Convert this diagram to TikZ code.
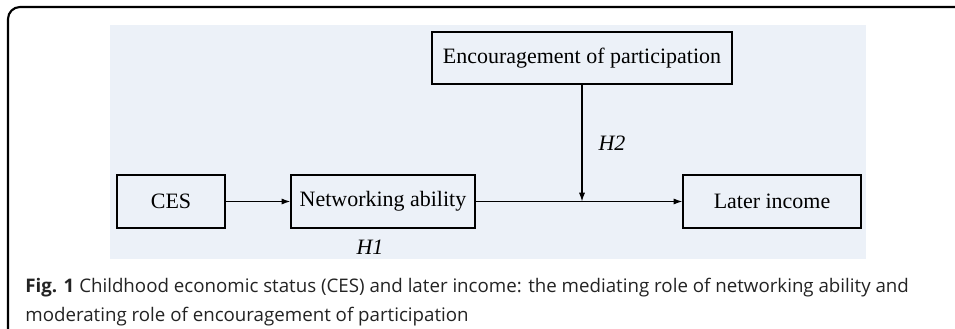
\documentclass[tikz,border=0pt]{standalone}
\usepackage{fontspec}
\setmainfont{Liberation Serif}
\newfontfamily\captionfont{Open Sans}
\usetikzlibrary{arrows.meta,positioning,calc}
\definecolor{panelblue}{RGB}{236,241,248}
\definecolor{captiongray}{RGB}{35,35,35}

\begin{document}
\begin{tikzpicture}[
    x=0.02cm, y=-0.02cm,
    box/.style={draw, rectangle, line width=0.7pt, fill=panelblue, inner sep=0pt, font=\fontsize{12.5}{14}\selectfont},
    hyp/.style={font=\fontsize{12.5}{14}\selectfont\itshape},
    link/.style={-{Latex[length=5pt,width=3.5pt]}, line width=0.7pt}
]
\useasboundingbox (0,0) rectangle (955,328);

% Frame and panel
\draw[line width=1.2pt, rounded corners=0.24cm] (8,330) -- (8,7) -- (958,7);
\fill[panelblue] (110,25) rectangle (866,259);

% Boxes
\node[box, minimum width=300*0.02cm, minimum height=52*0.02cm] (encour) at (582,58) {Encouragement of participation};
\node[box, minimum width=108*0.02cm, minimum height=53*0.02cm] (ces) at (171,201.5) {CES};
\node[box, minimum width=184*0.02cm, minimum height=53*0.02cm] (network) at (383,201.5) {Networking ability};
\node[box, minimum width=178*0.02cm, minimum height=53*0.02cm] (income) at (772,201.5) {Later income};
\coordinate (meet) at (582,201.5);

% Arrows
\draw[link] (ces) -- (network);
\draw[link] (network) -- (income);
\draw[link] (encour) -- (meet);

% Hypotheses
\node[hyp] (h2) at (612,143) {H2};
\node[hyp] (h1) at (370,247) {H1};

% Caption
\node[anchor=north west, align=left, inner sep=0pt, text=captiongray,
      font=\captionfont\fontsize{10.65}{16.3}\selectfont] (caption) at (25,278)
    {\textbf{Fig. 1} Childhood economic status (CES) and later income: the mediating role of networking ability and\\
     moderating role of encouragement of participation};

\end{tikzpicture}
\end{document}
